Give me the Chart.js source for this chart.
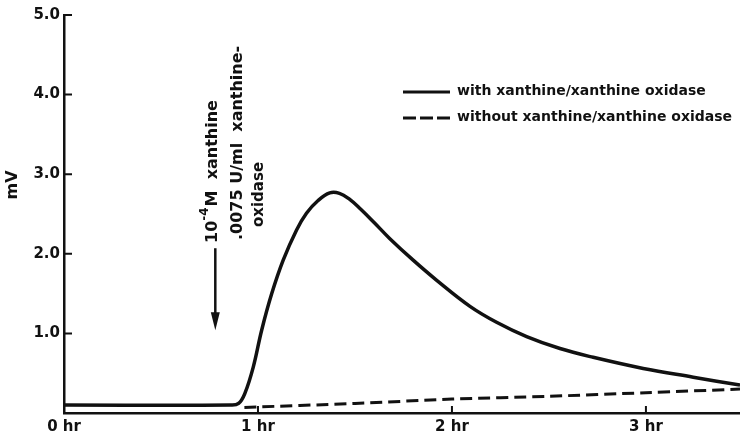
<!DOCTYPE html>
<html>
<head>
<meta charset="utf-8">
<title>mV response to xanthine / xanthine oxidase</title>
<script src="https://cdn.jsdelivr.net/npm/chart.js@4.4.1/dist/chart.umd.min.js"></script>
<style>
  html, body { margin: 0; padding: 0; background: #fff; }
  #wrap { width: 740px; height: 436px; }
</style>
</head>
<body>
<div id="wrap"><canvas id="trace" width="740" height="436"></canvas></div>
<script>
// Trace data (hours, mV)
const timeWith = [0, 0.86, 0.90, 0.933, 0.976, 1.019, 1.071, 1.130, 1.199, 1.25, 1.31, 1.37, 1.42, 1.47, 1.53, 1.60, 1.68, 1.80, 1.92, 2.093, 2.230, 2.385, 2.557, 2.728, 2.986, 3.244, 3.485];
const mvWith   = [0.10, 0.10, 0.12, 0.25, 0.58, 1.04, 1.50, 1.92, 2.30, 2.51, 2.67, 2.765, 2.76, 2.69, 2.56, 2.39, 2.19, 1.92, 1.67, 1.34, 1.14, 0.96, 0.81, 0.70, 0.56, 0.45, 0.35];

const timeWithout = [0.93, 1.5, 2.0, 2.5, 3.0, 3.485];
const mvWithout   = [0.07, 0.12, 0.175, 0.21, 0.255, 0.30];

const xTicks = [0, 1, 2, 3];
const yTicks = [1, 2, 3, 4, 5];

// addition marker (arrow) at this time, spanning these mV values
const addTime = 0.78;
const arrowFrom = 2.07, arrowTo = 1.04;

const seriesNames = ["with xanthine/xanthine oxidase", "without xanthine/xanthine oxidase"];

const INK = "#111";
const FONT = "DejaVu Sans";

const toPoints = (xs, ys) => xs.map((x, i) => ({ x, y: ys[i] }));

// ticks drawn inwards, y title, legend, annotation
const decorations = {
  id: "decorations",
  afterDraw(chart) {
    const { ctx, chartArea: a, scales: { x, y } } = chart;
    ctx.save();
    ctx.strokeStyle = INK;
    ctx.fillStyle = INK;

    // inner tick marks
    ctx.lineWidth = 2;
    ctx.beginPath();
    yTicks.forEach(v => {
      const py = y.getPixelForValue(v);
      ctx.moveTo(a.left, py);
      ctx.lineTo(a.left + 8, py);
    });
    xTicks.slice(1).forEach(v => {
      const px = x.getPixelForValue(v);
      ctx.moveTo(px, a.bottom);
      ctx.lineTo(px, a.bottom - 7);
    });
    ctx.stroke();

    // y title
    ctx.font = `bold 16px "${FONT}"`;
    ctx.textAlign = "center";
    ctx.textBaseline = "middle";
    ctx.save();
    ctx.translate(13, 185);
    ctx.rotate(-Math.PI / 2);
    ctx.fillText("mV", 0, 0);
    ctx.restore();

    // legend
    ctx.lineWidth = 3;
    ctx.beginPath();
    ctx.moveTo(403, 92);
    ctx.lineTo(450, 92);
    ctx.stroke();
    ctx.setLineDash([13, 4]);
    ctx.beginPath();
    ctx.moveTo(403, 118);
    ctx.lineTo(453, 118);
    ctx.stroke();
    ctx.setLineDash([]);
    ctx.font = `bold 14px "${FONT}"`;
    ctx.textAlign = "left";
    ctx.fillText(seriesNames[0], 457, 91);
    ctx.fillText(seriesNames[1], 457, 117);

    // arrow
    const ax = x.getPixelForValue(addTime);
    const ay0 = y.getPixelForValue(arrowFrom);
    const ay1 = y.getPixelForValue(arrowTo);
    ctx.lineWidth = 2.5;
    ctx.beginPath();
    ctx.moveTo(ax, ay0);
    ctx.lineTo(ax, ay1 - 10);
    ctx.stroke();
    ctx.beginPath();
    ctx.moveTo(ax - 4.5, ay1 - 18);
    ctx.lineTo(ax, ay1);
    ctx.lineTo(ax + 4.5, ay1 - 18);
    ctx.closePath();
    ctx.fill();

    // vertical annotation text
    const vtext = (px, py, draw) => {
      ctx.save();
      ctx.translate(px, py);
      ctx.rotate(-Math.PI / 2);
      ctx.textAlign = "left";
      ctx.textBaseline = "middle";
      draw();
      ctx.restore();
    };
    vtext(213, 243, () => {
      ctx.font = `bold 16px "${FONT}"`;
      ctx.fillText("10", 0, 0);
      let w = ctx.measureText("10").width;
      ctx.font = `bold 12px "${FONT}"`;
      ctx.fillText("-4", w, -8);
      w += ctx.measureText("-4").width;
      ctx.font = `bold 16px "${FONT}"`;
      ctx.fillText("M  xanthine", w + 1, 0);
    });
    vtext(238, 240, () => {
      ctx.font = `bold 16px "${FONT}"`;
      ctx.fillText(".0075 U/ml  xanthine-", 0, 0);
    });
    vtext(259, 227, () => {
      ctx.font = `bold 15px "${FONT}"`;
      ctx.fillText("oxidase", 0, 0);
    });

    ctx.restore();
  }
};

new Chart(document.getElementById("trace"), {
  type: "line",
  data: {
    datasets: [
      {
        label: seriesNames[0],
        data: toPoints(timeWith, mvWith),
        borderColor: INK,
        borderWidth: 3.5,
        pointRadius: 0,
        tension: 0.4,
        fill: false
      },
      {
        label: seriesNames[1],
        data: toPoints(timeWithout, mvWithout),
        borderColor: INK,
        borderWidth: 3,
        borderDash: [12, 6],
        pointRadius: 0,
        tension: 0.3,
        fill: false
      }
    ]
  },
  options: {
    responsive: false,
    animation: false,
    devicePixelRatio: 1,
    layout: { padding: { top: 15, right: 0, left: 0, bottom: 0 } },
    plugins: {
      legend: { display: false },
      tooltip: { enabled: false }
    },
    scales: {
      x: {
        type: "linear",
        min: 0,
        max: 3.485,
        afterBuildTicks: s => { s.ticks = xTicks.map(v => ({ value: v })); },
        afterFit: s => { s.height = 23; },
        grid: { display: false, drawTicks: false },
        border: { display: true, color: INK, width: 2.5 },
        ticks: {
          color: INK,
          padding: 5,
          maxRotation: 0,
          font: { family: FONT, size: 15, weight: "bold" },
          callback: v => `${v} hr`
        }
      },
      y: {
        type: "linear",
        min: 0,
        max: 5,
        afterBuildTicks: s => { s.ticks = yTicks.map(v => ({ value: v })); },
        afterFit: s => { s.width = 64; },
        grid: { display: false, drawTicks: false },
        border: { display: true, color: INK, width: 2.5 },
        ticks: {
          color: INK,
          padding: 4,
          font: { family: FONT, size: 15, weight: "bold" },
          callback: v => v.toFixed(1)
        }
      }
    }
  },
  plugins: [decorations]
});
</script>
</body>
</html>
